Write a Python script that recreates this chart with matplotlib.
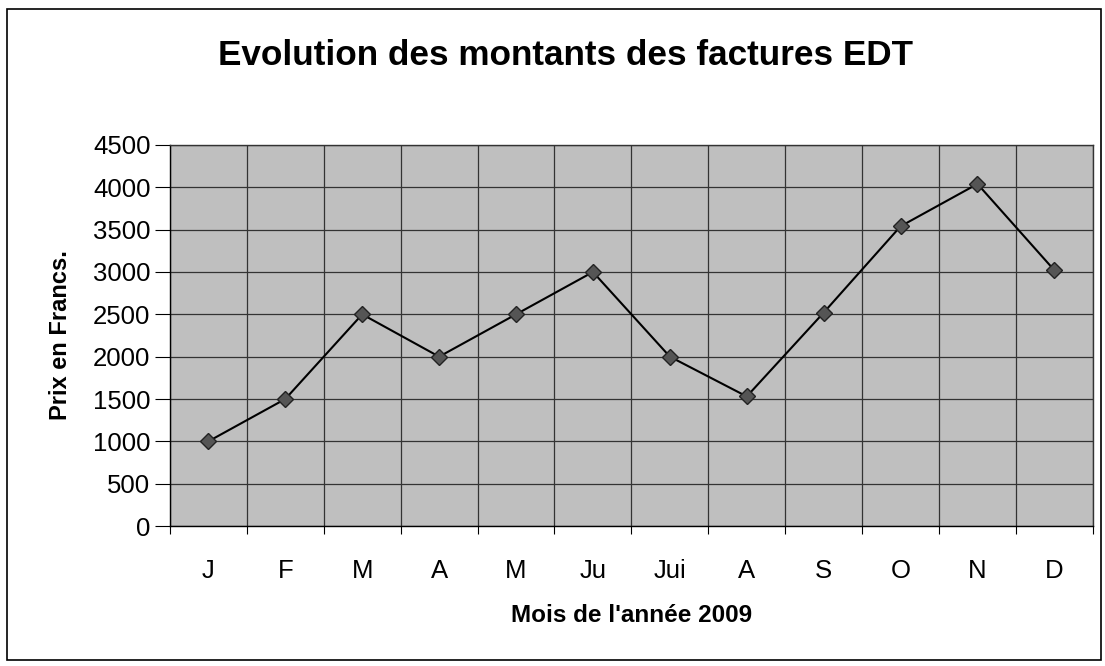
import numpy as np
import matplotlib.pyplot as plt
from matplotlib.patches import Rectangle

plt.rcParams['font.family'] = ['Liberation Sans', 'DejaVu Sans']

# chart data
mois = ['J', 'F', 'M', 'A', 'M', 'Ju', 'Jui', 'A', 'S', 'O', 'N', 'D']
montants = [1000, 1500, 2500, 2000, 2500, 3000, 2000, 1530, 2520, 3540, 4040, 3020]
y_ticks = [0, 500, 1000, 1500, 2000, 2500, 3000, 3500, 4000, 4500]

fig = plt.figure(figsize=(11.05, 6.66), dpi=100)
ax = fig.add_axes([0.1538, 0.2102, 0.8352, 0.5721])

# outer chart border (Excel style)
fig.patches.append(Rectangle((0.006, 0.009), 0.99, 0.978, transform=fig.transFigure,
                             fill=False, edgecolor='black', linewidth=1.2))

x = np.arange(len(mois))
ax.set_facecolor('#bfbfbf')
ax.plot(x, montants, color='black', linewidth=1.5, marker='D', markersize=8,
        markerfacecolor='#555555', markeredgecolor='#222222', zorder=3)

ax.set_xlim(-0.5, len(mois) - 0.5)
ax.set_ylim(0, 4500)
ax.set_yticks(y_ticks)
ax.set_yticklabels([str(v) for v in y_ticks], fontsize=18.5)

# ticks on category borders, labels at centres
ax.set_xticks(np.arange(-0.5, len(mois)))
ax.set_xticklabels([])
ax.set_xticks(x, minor=True)
ax.set_xticklabels(mois, minor=True, fontsize=18.5)
ax.tick_params(axis='x', which='major', length=6, direction='out', color='black')
ax.tick_params(axis='x', which='minor', length=0, pad=24)
ax.tick_params(axis='y', length=11, direction='out', pad=3)

ax.grid(True, which='major', color='#333333', linewidth=0.9)
ax.set_axisbelow(True)
for s in ax.spines.values():
    s.set_color('#333333')
    s.set_linewidth(1.0)
ax.spines['bottom'].set_color('black')
ax.spines['left'].set_color('black')

fig.text(0.512, 0.917, 'Evolution des montants des factures EDT', ha='center', va='center',
         fontsize=25.3, fontweight='bold')
ax.set_xlabel("Mois de l'année 2009", fontsize=17.5, fontweight='bold', labelpad=15)
ax.set_ylabel('Prix en Francs.', fontsize=17, fontweight='bold', labelpad=15)

fig.savefig('out.png', dpi=100)
